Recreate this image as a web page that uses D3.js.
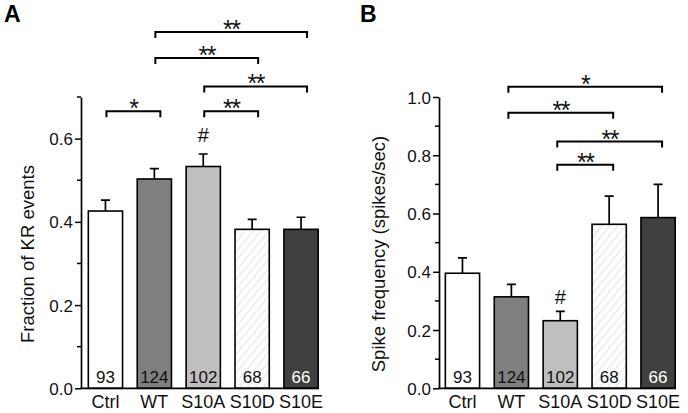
<!DOCTYPE html>
<html><head><meta charset="utf-8">
<script src="https://cdn.jsdelivr.net/npm/d3@7"></script>
<style>body{margin:0;background:#fff}svg{display:block;font-family:Arial,"Liberation Sans",Helvetica,sans-serif}</style>
</head><body><svg id="c" width="688" height="413"></svg>
<script>
// ---- data ----
const categories = ["Ctrl","WT","S10A","S10D","S10E"];
const counts = [93,124,102,68,66];
const fracMean = [0.426,0.503,0.533,0.382,0.382];
const fracErr  = [0.026,0.025,0.030,0.024,0.029];
const spikeMean = [0.395,0.314,0.232,0.563,0.586];
const spikeErr  = [0.053,0.043,0.032,0.097,0.114];
const fracTicks = [0.0,0.2,0.4,0.6];
const spikeTicks = [0.0,0.2,0.4,0.6,0.8,1.0];
// significance brackets: [from, to, level (data units), label]
const fracSig = [["Ctrl","WT",0.6655,"*"],["S10A","S10D",0.6655,"**"],["S10A","S10E",0.7255,"**"],["WT","S10D",0.794,"**"],["WT","S10E",0.856,"**"]];
const spikeSig = [["S10A","S10D",0.767,"**"],["S10A","S10E",0.847,"**"],["WT","S10D",0.946,"**"],["WT","S10E",1.035,"*"]];

const fills = {Ctrl:"#ffffff",WT:"#7f7f7f",S10A:"#bfbfbf",S10D:"url(#hatch)",S10E:"#404040"};
const countColor = {Ctrl:"#111",WT:"#111",S10A:"#111",S10D:"#111",S10E:"#fff"};

const svg = d3.select("#c");
const defs = svg.append("defs");
const pat = defs.append("pattern").attr("id","hatch").attr("patternUnits","userSpaceOnUse")
  .attr("width",6).attr("height",6).attr("patternTransform","rotate(40)");
pat.append("rect").attr("width",6).attr("height",6).attr("fill","#fff");
pat.append("line").attr("x1",0).attr("y1",0).attr("x2",0).attr("y2",6).attr("stroke","#c4c4c4").attr("stroke-width",0.9);

function panel(o){
  const g = svg.append("g");
  const y = d3.scaleLinear().domain([0,o.ymax]).range([388.3,97]);
  const x = d3.scaleBand().domain(categories).range([o.x0, o.x0 + o.step*(categories.length - 0.3 + 2*o.po)])
     .paddingInner(0.3).paddingOuter(o.po);
  const bw = x.bandwidth();
  const cx = c => x(c) + bw/2;

  // bars
  g.selectAll("rect.bar").data(categories).join("rect")
    .attr("x", c=>x(c)).attr("width", bw)
    .attr("y", (c,i)=>y(o.mean[i])).attr("height",(c,i)=>y(0)-y(o.mean[i]))
    .attr("fill", c=>fills[c]).attr("stroke","#000").attr("stroke-width",1.6);
  // error bars
  g.selectAll("path.err").data(categories).join("path")
    .attr("d",(c,i)=>{const a=y(o.mean[i]),b=y(o.mean[i]+o.err[i]);return `M${cx(c)},${a}V${b}M${cx(c)-4.5},${b}H${cx(c)+4.5}`;})
    .attr("stroke","#000").attr("stroke-width",1.7).attr("fill","none");
  // counts
  g.selectAll("text.n").data(categories).join("text")
    .attr("x",c=>cx(c)).attr("y",382.5).attr("text-anchor","middle")
    .attr("font-size",17).attr("fill",c=>countColor[c]).text((c,i)=>counts[i]);

  // y axis
  const ax = g.append("g").attr("transform",`translate(${o.x0},0)`)
    .call(d3.axisLeft(y).tickValues(o.ticks).tickFormat(d3.format(".1f")).tickSize(6).tickSizeOuter(0));
  ax.select(".domain").attr("stroke-width",1.7);
  ax.selectAll(".tick line").attr("stroke-width",1.5);
  ax.selectAll(".tick text").attr("font-size",17).attr("fill","#111").attr("x",-8).attr("dy","0.36em").attr("font-family","Arial,'Liberation Sans',sans-serif");
  const minor = d3.range(0.1,o.ymax+0.001,0.2);
  g.append("g").selectAll("line").data(minor).join("line")
    .attr("x1",o.x0-4).attr("x2",o.x0).attr("y1",d=>y(d)).attr("y2",d=>y(d)).attr("stroke","#000").attr("stroke-width",1.5);
  // x axis line
  g.append("line").attr("x1",o.x0-0.8).attr("x2",x(categories[categories.length-1])+bw+0.8)
    .attr("y1",y(0)).attr("y2",y(0)).attr("stroke","#000").attr("stroke-width",1.7);
  g.selectAll("text.cat").data(categories).join("text")
    .attr("x",c=>cx(c)).attr("y",407.5).attr("text-anchor","middle").attr("font-size",18).attr("fill","#111").text(c=>c);

  // y label
  g.append("text").attr("transform",`translate(${o.labX},254) rotate(-90)`).attr("text-anchor","middle")
    .attr("font-size",18.5).attr("fill","#111").text(o.ylabel);
  // panel letter
  g.append("text").attr("x",o.letterX).attr("y",22).attr("font-size",23).attr("font-weight","bold").text(o.letter);

  // hash
  const hi = categories.indexOf("S10A");
  g.append("text").attr("x",cx("S10A")).attr("y",y(o.mean[hi]+o.err[hi]) - o.hashOff).attr("text-anchor","middle")
    .attr("font-size",20).attr("fill","#111").text("#");

  // brackets
  o.sig.forEach(s=>{
    const a = cx(s[0]) + o.lo, b = cx(s[1]) + o.ro, yy = y(s[2]);
    g.append("path").attr("d",`M${a},${yy+6}V${yy}H${b}V${yy+6}`).attr("fill","none").attr("stroke","#000").attr("stroke-width",2);
    g.append("text").attr("x",(a+b)/2).attr("y",yy+6).attr("text-anchor","middle").attr("font-size",25)
      .attr("letter-spacing",-1.5).attr("fill","#111").text(s[3]);
  });
}

panel({x0:81, step:48.9, po:0.15, ymax:0.7, mean:fracMean, err:fracErr, ticks:fracTicks, sig:fracSig,
  ylabel:"Fraction of KR events", labX:33.5, letter:"A", letterX:4, hashOff:12, lo:1, ro:6});
panel({x0:439, step:48.9, po:0.13, ymax:1.0, mean:spikeMean, err:spikeErr, ticks:spikeTicks, sig:spikeSig,
  ylabel:"Spike frequency (spikes/sec)", labX:385, letter:"B", letterX:360, hashOff:7, lo:-3, ro:4});
</script></body></html>
